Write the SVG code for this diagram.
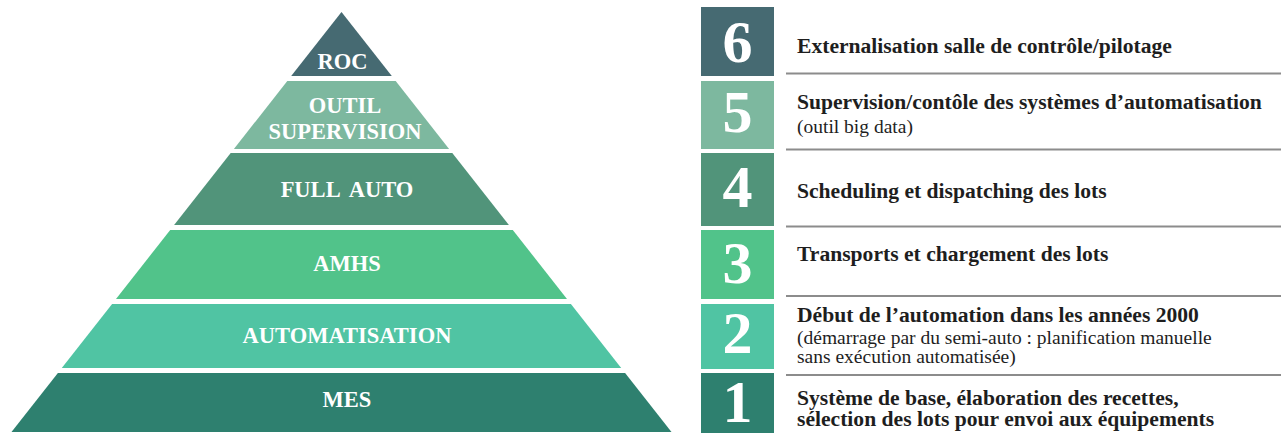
<svg xmlns="http://www.w3.org/2000/svg" width="1284" height="433" viewBox="0 0 1284 433">
<style>
.tl{font-family:"Liberation Serif","Times New Roman",serif;font-weight:bold;font-size:22.5px;fill:#fff;text-anchor:middle}
.num{font-family:"Liberation Serif","Times New Roman",serif;font-weight:bold;font-size:60px;fill:#fff;text-anchor:middle}
.hd{font-family:"Liberation Serif","Times New Roman",serif;font-weight:bold;font-size:21.6px;fill:#1e1e1e}
.sub{font-family:"Liberation Serif","Times New Roman",serif;font-size:19.5px;fill:#1e1e1e}
.sep{stroke:#8c8c8c;stroke-width:2}
</style>
<rect width="1284" height="433" fill="#fff"/>
<g id="tier6"><polygon points="291.2,76 341.5,12 391.8,76" fill="#466a72"/><text class="tl" x="342.5" y="69">ROC</text></g>
<g id="tier5"><polygon points="287.3,81 395.7,81 449.1,149 233.9,149" fill="#7db89f"/><text class="tl" x="345" y="113">OUTIL</text><text class="tl" x="345" y="139">SUPERVISION</text></g>
<g id="tier4"><polygon points="230.7,153 452.3,153 508.9,225 174.1,225" fill="#51947a"/><text class="tl" x="347" y="197" word-spacing="5">FULL AUTO</text></g>
<g id="tier3"><polygon points="170.2,230 512.8,230 567,299 116,299" fill="#51c38a"/><text class="tl" x="347" y="271">AMHS</text></g>
<g id="tier2"><polygon points="112.1,304 570.9,304 621.2,368 61.8,368" fill="#50c4a3"/><text class="tl" x="347" y="343">AUTOMATISATION</text></g>
<g id="tier1"><polygon points="57.9,373 625.1,373 671.5,432 11.5,432" fill="#2e806f"/><text class="tl" x="347" y="407">MES</text></g>
<g id="connectors">
<line class="sep" x1="786" y1="73.5" x2="1281" y2="73.5"/>
<line class="sep" x1="786" y1="149.5" x2="1281" y2="149.5"/>
<line class="sep" x1="786" y1="226.5" x2="1281" y2="226.5"/>
<line class="sep" x1="786" y1="296" x2="1281" y2="296"/>
<line class="sep" x1="786" y1="375" x2="1281" y2="375"/>
</g>
<g id="row6"><rect x="701" y="7" width="73" height="69" fill="#466a72"/><text class="num" x="737.5" y="62">6</text><text class="hd" x="797" y="53">Externalisation salle de contrôle/pilotage</text></g>
<g id="row5"><rect x="701" y="81" width="73" height="68" fill="#7db89f"/><text class="num" x="737.5" y="132">5</text><text class="hd" x="797" y="109">Supervision/contôle des systèmes d’automatisation</text><text class="sub" x="797" y="133">(outil big data)</text></g>
<g id="row4"><rect x="701" y="153" width="73" height="73" fill="#51947a"/><text class="num" x="737.5" y="207">4</text><text class="hd" x="797" y="198">Scheduling et dispatching des lots</text></g>
<g id="row3"><rect x="701" y="230" width="73" height="69" fill="#51c38a"/><text class="num" x="737.5" y="283">3</text><text class="hd" x="797" y="261">Transports et chargement des lots</text></g>
<g id="row2"><rect x="701" y="304" width="73" height="65" fill="#50c4a3"/><text class="num" x="737.5" y="353">2</text><text class="hd" x="797" y="322">Début de l’automation dans les années 2000</text><text class="sub" x="797" y="344">(démarrage par du semi-auto : planification manuelle</text><text class="sub" x="797" y="363">sans exécution automatisée)</text></g>
<g id="row1"><rect x="701" y="373" width="73" height="60" fill="#2e806f"/><text class="num" x="737.5" y="422">1</text><text class="hd" x="797" y="405">Système de base, élaboration des recettes,</text><text class="hd" x="797" y="426">sélection des lots pour envoi aux équipements</text></g>
</svg>
